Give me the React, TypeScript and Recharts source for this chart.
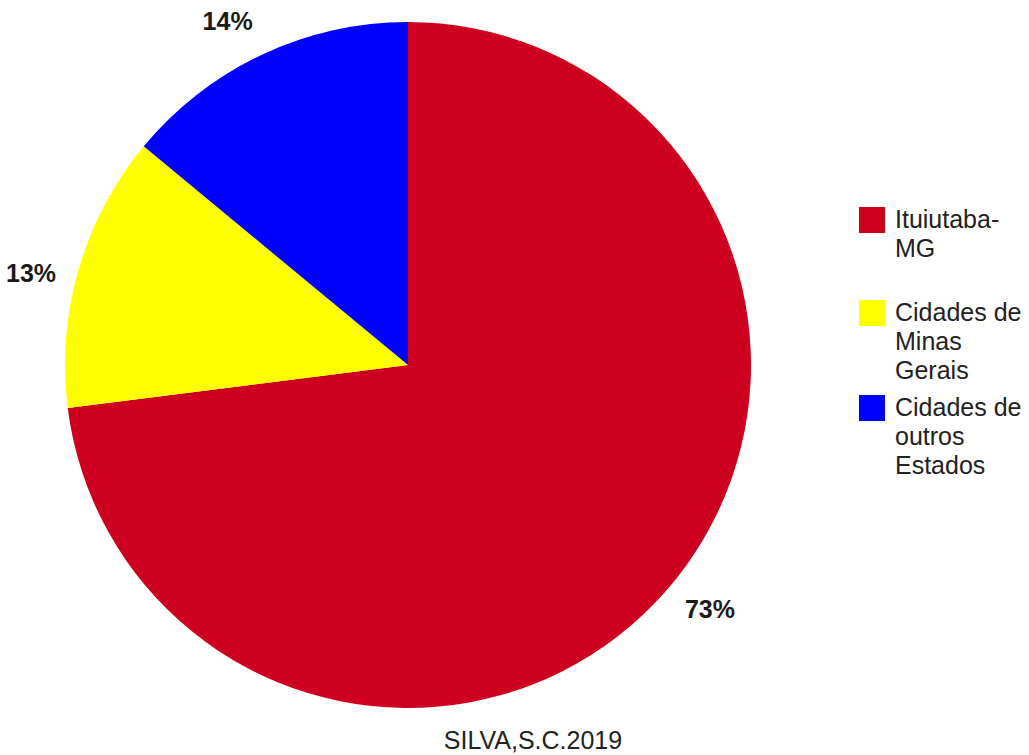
import { PieChart, Pie, Cell, Legend } from 'recharts'

const categories = ['Ituiutaba-MG', 'Cidades de Minas Gerais', 'Cidades de outros Estados']
const legendLines = [['Ituiutaba-', 'MG'], ['Cidades de', 'Minas', 'Gerais'], ['Cidades de', 'outros', 'Estados']]
const shares = [73, 13, 14]
const colors = ['#CE0020', '#FFFF00', '#0000FF']
const source = 'SILVA,S.C.2019'

const data = categories.map((name, i) => ({ name, value: shares[i] }))

const FONT = '"Liberation Sans", Arial, sans-serif'
const RAD = Math.PI / 180

function renderLabel(props: any) {
  const { cx, cy, midAngle, outerRadius, value } = props
  const r = outerRadius + 45
  const a = midAngle + 2.5
  const x = cx + r * Math.cos(-a * RAD)
  const y = cy + r * Math.sin(-a * RAD)
  return (
    <text
      x={x}
      y={y}
      textAnchor="middle"
      dominantBaseline="central"
      fontFamily={FONT}
      fontWeight="bold"
      fontSize={25}
      fill="#1a1a1a"
    >
      {`${value}%`}
    </text>
  )
}

function LegendBox() {
  return (
    <div style={{ fontFamily: FONT, fontSize: 25, color: '#222', lineHeight: '29px' }}>
      {legendLines.map((lines, i) => (
        <div key={i} style={{ display: 'flex', alignItems: 'flex-start', marginBottom: i === 0 ? 35 : 8 }}>
          <div
            style={{
              width: 26,
              height: 26,
              background: colors[i],
              marginTop: 2,
              marginRight: 10,
              flexShrink: 0,
            }}
          />
          <div>
            {lines.map((l, j) => (
              <div key={j}>{l}</div>
            ))}
          </div>
        </div>
      ))}
    </div>
  )
}

export default function App() {
  return (
    <div style={{ position: 'absolute', left: 0, top: 0, width: 1029, height: 755, background: '#fff', overflow: 'hidden' }}>
      <PieChart width={1029} height={755} margin={{ top: 0, right: 0, bottom: 0, left: 0 }}>
        <Pie
          data={data}
          dataKey="value"
          nameKey="name"
          cx={408}
          cy={365}
          outerRadius={343}
          startAngle={90}
          endAngle={-270}
          stroke="none"
          label={renderLabel}
          labelLine={false}
          isAnimationActive={false}
        >
          {data.map((d, i) => (
            <Cell key={d.name} fill={colors[i]} />
          ))}
        </Pie>
        <Legend
          layout="vertical"
          content={() => <LegendBox />}
          wrapperStyle={{ position: 'absolute', left: 859, top: 205, width: 170 }}
        />
      </PieChart>
      <div
        style={{
          position: 'absolute',
          left: 0,
          width: 1066,
          top: 728,
          textAlign: 'center',
          fontFamily: FONT,
          fontSize: 25,
          lineHeight: '24px',
          color: '#222',
        }}
      >
        {source}
      </div>
    </div>
  )
}
